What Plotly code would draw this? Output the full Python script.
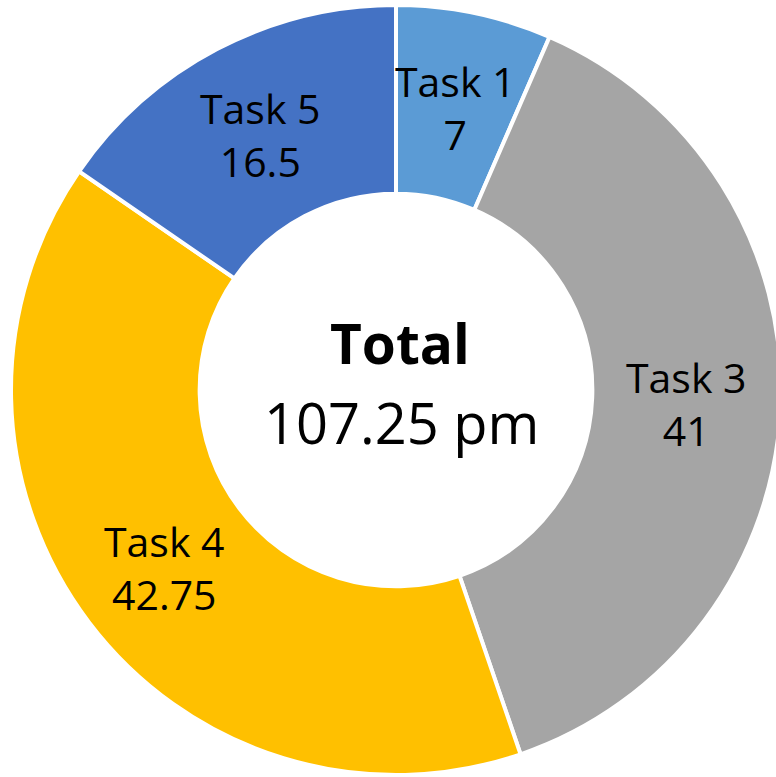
import math
import plotly.graph_objects as go

labels = ["Task 1", "Task 3", "Task 4", "Task 5"]
values = [7, 41, 42.75, 16.5]
colors = ["#5B9BD5", "#A5A5A5", "#FFC000", "#4472C4"]
unit = "pm"

# figure is a little wider than the 776px window so the ring is clipped at the right edge
W, H = 790, 777
CX, CY, R = 396, 390, 385          # ring centre / radius in figure pixels
HOLE = 0.51
total = sum(values)

fig = go.Figure(go.Pie(
    labels=labels,
    values=values,
    hole=HOLE,
    sort=False,
    direction="clockwise",
    rotation=0,
    marker=dict(colors=colors, line=dict(color="white", width=4)),
    textinfo="none",
    showlegend=False,
    hoverinfo="label+value",
    domain=dict(x=[(CX - R) / W, (CX + R) / W], y=[(H - CY - R) / H, (H - CY + R) / H]),
))

# data labels at the middle of the ring, on each slice's bisector (as in Excel)
r_mid = R * (1 + HOLE) / 2
cum = 0.0
for lab, val in zip(labels, values):
    mid = (cum + val / 2) / total * 2 * math.pi
    cum += val
    px = CX + r_mid * math.sin(mid)
    py = CY - r_mid * math.cos(mid) + 2
    fig.add_annotation(
        text=f"{lab}<br>{val:g}", x=px / W, y=1 - py / H, xref="paper", yref="paper",
        xanchor="center", yanchor="middle", showarrow=False,
        font=dict(family="Open Sans", size=41, color="black"),
    )

fig.add_annotation(
    text="<b>Total</b>", x=400 / W, y=1 - 343 / H, xref="paper", yref="paper",
    xanchor="center", yanchor="middle", showarrow=False,
    font=dict(family="Open Sans", size=55, color="black"),
)
fig.add_annotation(
    text=f"{total:g} {unit}", x=401 / W, y=1 - 422 / H, xref="paper", yref="paper",
    xanchor="center", yanchor="middle", showarrow=False,
    font=dict(family="Open Sans", size=56, color="black"),
)

fig.update_layout(
    width=W, height=H,
    margin=dict(l=0, r=0, t=0, b=0),
    paper_bgcolor="white",
    plot_bgcolor="white",
)

fig.write_html(
    "out.html",
    config={"displayModeBar": False},
    post_script="document.body.style.margin='0';document.body.style.overflow='hidden';",
)
